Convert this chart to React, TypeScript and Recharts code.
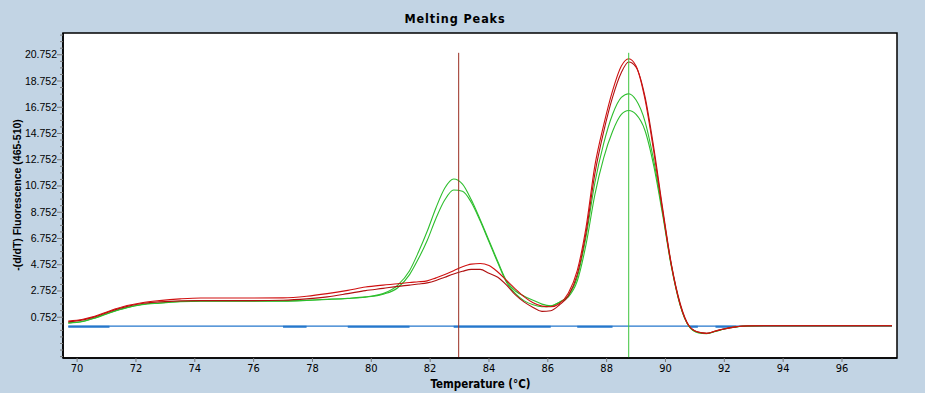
import React from 'react';
import { LineChart, Line, XAxis, YAxis, ReferenceLine, ReferenceArea } from 'recharts';

const temps = [69.7, 70.2, 70.6, 71.1, 71.7, 72.2, 72.8, 73.5, 74.2, 75.0, 76.0, 77.0, 77.8, 78.5, 79.2, 79.8, 80.4, 80.9, 81.3, 81.6, 81.9, 82.2, 82.5, 82.8, 83.1, 83.4, 83.7, 84.0, 84.3, 84.6, 84.9, 85.2, 85.5, 85.8, 86.1, 86.4, 86.7, 87.0, 87.3, 87.6, 87.9, 88.2, 88.5, 88.75, 89.0, 89.3, 89.6, 89.9, 90.2, 90.5, 90.8, 91.1, 91.4, 91.7, 92.0, 92.4, 92.8, 93.5, 95.0, 97.7];

const red1 = [0.47, 0.6, 0.82, 1.23, 1.64, 1.86, 2.02, 2.15, 2.22, 2.22, 2.22, 2.23, 2.35, 2.55, 2.8, 3.05, 3.2, 3.3, 3.4, 3.45, 3.52, 3.75, 4.0, 4.3, 4.6, 4.8, 4.85, 4.7, 4.2, 3.55, 2.9, 2.3, 1.85, 1.6, 1.55, 1.8, 2.6, 4.3, 7.6, 12.3, 15.4, 18.0, 19.9, 20.45, 19.9, 17.4, 13.4, 8.9, 4.7, 1.7, 0.08, -0.38, -0.48, -0.3, -0.15, 0.02, 0.1, 0.1, 0.1, 0.1];

const red2 = [0.4, 0.55, 0.78, 1.18, 1.58, 1.8, 1.92, 2.0, 2.02, 2.02, 2.02, 2.05, 2.15, 2.3, 2.55, 2.78, 2.95, 3.1, 3.2, 3.28, 3.37, 3.55, 3.8, 4.05, 4.25, 4.4, 4.4, 4.1, 3.8, 3.2, 2.45, 1.9, 1.5, 1.2, 1.25, 1.7, 2.4, 4.0, 7.2, 11.7, 14.9, 17.5, 19.4, 20.2, 19.8, 17.6, 13.7, 9.1, 4.8, 1.8, 0.1, -0.38, -0.47, -0.3, -0.12, 0.03, 0.08, 0.1, 0.1, 0.1];

const green1 = [0.32, 0.45, 0.7, 1.1, 1.5, 1.72, 1.84, 1.95, 2.0, 2.0, 2.0, 2.0, 2.05, 2.12, 2.2, 2.3, 2.55, 3.2, 4.3, 5.7, 7.3, 9.1, 10.6, 11.28, 10.9, 9.7, 8.2, 6.6, 5.0, 3.5, 2.75, 2.35, 2.05, 1.75, 1.62, 1.9, 2.4, 3.8, 6.9, 11.0, 14.0, 16.2, 17.5, 17.78, 17.3, 15.7, 12.7, 8.8, 4.7, 1.7, 0.05, -0.42, -0.5, -0.33, -0.15, 0.02, 0.08, 0.1, 0.1, 0.1];

const green2 = [0.3, 0.43, 0.68, 1.08, 1.48, 1.7, 1.82, 1.93, 1.98, 1.98, 1.98, 1.98, 2.03, 2.1, 2.18, 2.28, 2.5, 3.0, 4.0, 5.2, 6.6, 8.3, 9.7, 10.45, 10.35, 9.5, 8.1, 6.5, 4.9, 3.4, 2.55, 2.0, 1.7, 1.55, 1.6, 1.9, 2.3, 3.5, 6.3, 10.1, 12.9, 14.9, 16.2, 16.5, 16.2, 15.0, 12.3, 8.6, 4.6, 1.65, 0.05, -0.4, -0.49, -0.32, -0.14, 0.02, 0.08, 0.1, 0.1, 0.1];

const blueBase = [0.08, 0.08, 0.08, 0.08, 0.08, 0.08, 0.08, 0.08, 0.08, 0.08, 0.08, 0.08, 0.08, 0.08, 0.08, 0.08, 0.08, 0.08, 0.08, 0.08, 0.08, 0.08, 0.08, 0.08, 0.08, 0.08, 0.08, 0.08, 0.08, 0.08, 0.08, 0.08, 0.08, 0.08, 0.08, 0.08, 0.08, 0.08, 0.08, 0.08, 0.08, 0.08, 0.08, 0.08, 0.08, 0.08, 0.08, 0.08, 0.08, 0.08, 0.08, 0.08, 0.08, 0.08, 0.08, 0.08, 0.08, 0.08, 0.08, 0.08];

const blueThick = [0.03, 0.03, 0.03, 0.03, null, null, null, null, null, null, null, 0.03, 0.03, null, 0.03, 0.03, 0.03, 0.03, 0.03, null, null, null, null, 0.03, 0.03, 0.03, 0.03, 0.03, 0.03, 0.03, 0.03, 0.03, 0.03, 0.03, 0.03, null, null, 0.03, 0.03, 0.03, 0.03, 0.03, null, null, null, null, null, null, null, null, 0.03, 0.03, null, 0.03, 0.03, 0.03, null, null, null, null];

const xTicks = [70, 72, 74, 76, 78, 80, 82, 84, 86, 88, 90, 92, 94, 96];
const yMajorTicks = [0.752, 2.752, 4.752, 6.752, 8.752, 10.752, 12.752, 14.752, 16.752, 18.752, 20.752];
const yMinorTicks = [-2.248, -1.748, -1.248, -0.748, -0.248, 0.252, 1.252, 1.752, 2.252, 3.252, 3.752, 4.252, 5.252, 5.752, 6.252, 7.252, 7.752, 8.252, 9.252, 9.752, 10.252, 11.252, 11.752, 12.252, 13.252, 13.752, 14.252, 15.252, 15.752, 16.252, 17.252, 17.752, 18.252, 19.252, 19.752, 20.252, 21.252, 21.752, 22.252];

const peakMarkers = [82.97, 88.75];
const markerTop = 20.9;

const data = temps.map((t, i) => ({
  t,
  r1: red1[i],
  r2: red2[i],
  g1: green1[i],
  g2: green2[i],
  b1: blueBase[i],
  b2: blueThick[i],
}));

const X_DOMAIN: [number, number] = [69.52, 97.87];
const Y_DOMAIN: [number, number] = [-2.355, 22.41];

const majorSet = new Set(yMajorTicks.map((v) => v.toFixed(3)));
const allYTicks = [...yMajorTicks, ...yMinorTicks].sort((a, b) => a - b);

const narrow = "'Liberation Sans Narrow', 'DejaVu Sans Condensed', 'Arial Narrow', sans-serif";
const sans = "'Liberation Sans', Arial, sans-serif";

const YTick = (props: any) => {
  const { x, y, payload } = props;
  const major = majorSet.has(Number(payload.value).toFixed(3));
  return (
    <g>
      <line x1={x - (major ? 6 : 3)} x2={x} y1={y} y2={y} stroke="#7a7a7a" strokeWidth={1} />
      {major && (
        <text x={x - 6} y={y} dy={3.5} textAnchor="end" fontSize={10.5} fontFamily={sans} fill="#000">
          {Number(payload.value).toFixed(3)}
        </text>
      )}
    </g>
  );
};

const XTick = (props: any) => {
  const { x, y, payload } = props;
  return (
    <g>
      <line x1={x} x2={x} y1={y} y2={y + 4} stroke="#7a7a7a" strokeWidth={1} />
      <text x={x} y={y + 14} textAnchor="middle" fontSize={11} fontFamily={narrow} fill="#000">
        {payload.value}
      </text>
    </g>
  );
};

export default function App() {
  return (
    <div style={{ position: 'fixed', left: 0, top: 0, width: 925, height: 393, background: '#C2D4E4', overflow: 'hidden' }}>
      <svg width={925} height={393} style={{ position: 'absolute', left: 0, top: 0, pointerEvents: 'none' }}>
        <text x={455} y={23} textAnchor="middle" fontSize={12.5} fontWeight="bold" fontFamily={narrow} letterSpacing={0.9} fill="#000">
          Melting Peaks
        </text>
        <text x={480.5} y={388} textAnchor="middle" fontSize={11.5} fontWeight="bold" fontFamily={narrow} fill="#000">
          Temperature (°C)
        </text>
        <text x={21} y={195} textAnchor="middle" fontSize={10.5} fontWeight="bold" fontFamily={sans} fill="#000" transform="rotate(-90 21 195)">
          -(d/dT) Fluorescence (465-510)
        </text>
      </svg>
      <div style={{ position: 'absolute', left: 0, top: 0 }}>
        <LineChart width={925} height={393} data={data} margin={{ top: 33, right: 28, left: 0, bottom: 0 }}>
          <ReferenceArea x1={X_DOMAIN[0]} x2={X_DOMAIN[1]} y1={Y_DOMAIN[0]} y2={Y_DOMAIN[1]} fill="#ffffff" fillOpacity={1} stroke="#000" strokeWidth={1.5} ifOverflow="visible" />
          <XAxis
            dataKey="t"
            type="number"
            domain={X_DOMAIN}
            allowDataOverflow
            ticks={xTicks}
            interval={0}
            height={35}
            tickSize={0}
            tickMargin={0}
            tickLine={false}
            axisLine={{ stroke: '#000', strokeWidth: 1.5 }}
            tick={<XTick />}
          />
          <YAxis
            type="number"
            domain={Y_DOMAIN}
            allowDataOverflow
            ticks={allYTicks}
            interval={0}
            width={63}
            tickSize={0}
            tickMargin={0}
            tickLine={false}
            axisLine={{ stroke: '#000', strokeWidth: 1.5 }}
            tick={<YTick />}
          />
          <Line dataKey="b1" stroke="#2477CC" strokeWidth={1.3} dot={false} isAnimationActive={false} type="linear" />
          <Line dataKey="b2" stroke="#2477CC" strokeWidth={2} dot={false} isAnimationActive={false} type="linear" connectNulls={false} />
          <Line dataKey="g2" stroke="#2DBE2D" strokeWidth={1.1} dot={false} isAnimationActive={false} type="monotone" />
          <Line dataKey="g1" stroke="#2DBE2D" strokeWidth={1.1} dot={false} isAnimationActive={false} type="monotone" />
          <Line dataKey="r2" stroke="#B01010" strokeWidth={1.1} dot={false} isAnimationActive={false} type="monotone" />
          <Line dataKey="r1" stroke="#D01010" strokeWidth={1.1} dot={false} isAnimationActive={false} type="monotone" />
          <ReferenceLine segment={[{ x: peakMarkers[0], y: markerTop }, { x: peakMarkers[0], y: Y_DOMAIN[0] }]} stroke="#9A2E22" strokeWidth={1} />
          <ReferenceLine segment={[{ x: peakMarkers[1], y: markerTop }, { x: peakMarkers[1], y: Y_DOMAIN[0] }]} stroke="#3CC43C" strokeWidth={1} />
        </LineChart>
      </div>
    </div>
  );
}
